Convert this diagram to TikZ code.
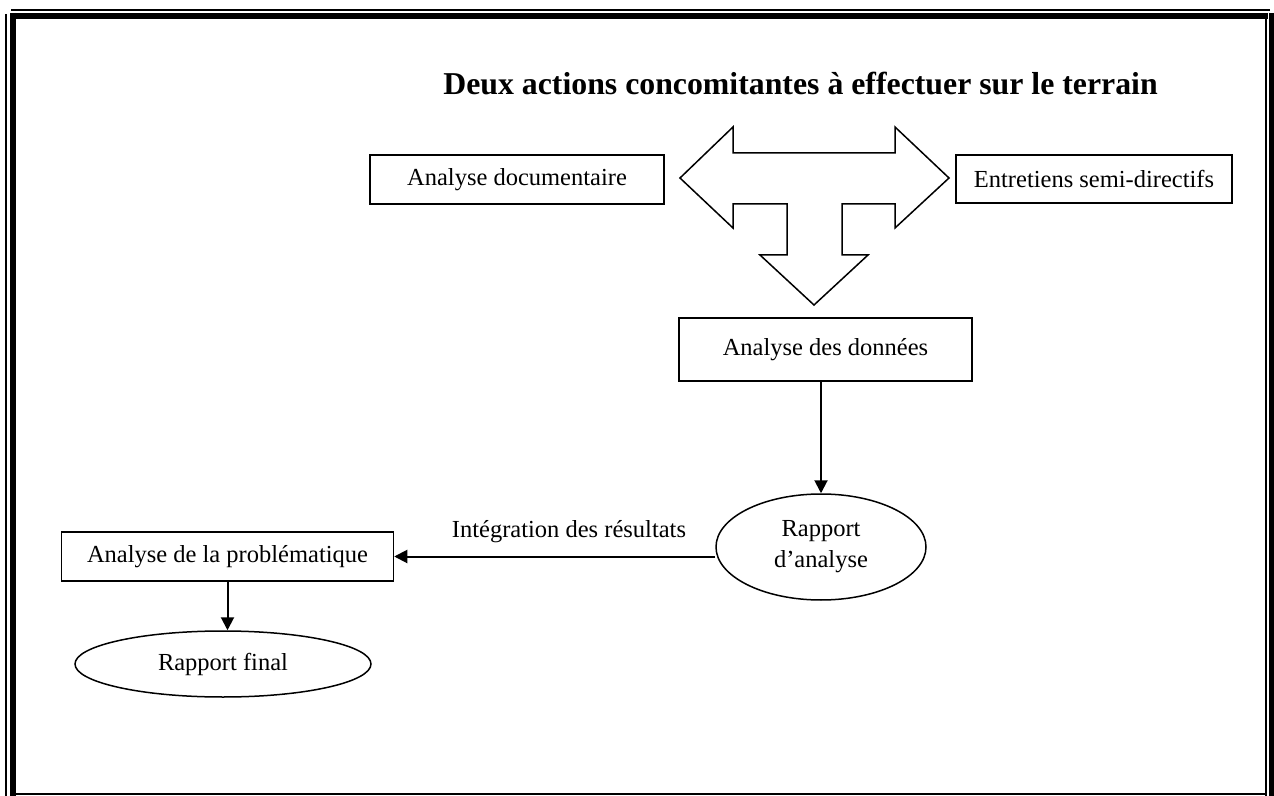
\documentclass[tikz,border=0pt]{standalone}
\usepackage{fontspec}
\setmainfont{Liberation Serif}
\usetikzlibrary{shapes.geometric,arrows.meta,calc}
\tikzset{
  boxnode/.style={draw,line width=0.75pt,inner sep=0pt,font=\fontsize{12.25}{15.5}\selectfont},
  ellnode/.style={draw,ellipse,line width=0.75pt,inner sep=0pt,align=center,font=\fontsize{12.25}{15.5}\selectfont},
  arr/.style={line width=1pt,-{Triangle[length=6.5pt,width=6.5pt]}},
  thinb/.style={line width=0.75pt},
}
\begin{document}
\begin{tikzpicture}[x=0.5pt,y=-0.5pt]
\useasboundingbox (0,0) rectangle (1274,796);
% page border
\draw[thinb] (11,10) -- (1270,10);
\draw[line width=3pt] (10,16) -- (1268,16);
\draw[thinb] (6,14) -- (6,796);
\draw[line width=3pt] (13,13) -- (13,796);
\draw[thinb] (1266,19) -- (1266,796);
\draw[line width=2.5pt] (1271.5,13) -- (1271.5,796);
\draw[thinb] (16,794) -- (1266,794);
% title
\node[font=\fontsize{15.9}{18}\selectfont\bfseries] (title) at (800.5,84) {Deux actions concomitantes à effectuer sur le terrain};
% boxes
\node[boxnode,minimum width=147pt,minimum height=24.5pt] (doc) at (517,179.5) {Analyse documentaire};
\node[boxnode,minimum width=138pt,minimum height=24pt] (ent) at (1094,179) {Entretiens semi-directifs};
\node[boxnode,minimum width=146.5pt,minimum height=31.5pt] (don) at (825.5,349.5) {Analyse des données};
\node[ellnode,minimum width=105pt,minimum height=53pt] (rap) at (821,547) {Rapport\\d’analyse};
\node[boxnode,minimum width=166pt,minimum height=24.5pt] (prob) at (227.5,556.5) {Analyse de la problématique};
\node[ellnode,minimum width=148pt,minimum height=33pt] (fin) at (223,664) {Rapport final};
% triple block arrow
\draw[line width=0.75pt,line join=miter]
  (680,178) -- (733,127) -- (733,153) -- (895,153) -- (895,127) -- (949,178)
  -- (895,228) -- (895,204) -- (842,204) -- (842,255) -- (868,255) -- (814,305)
  -- (760,255) -- (787,255) -- (787,204) -- (733,204) -- (733,228) -- cycle;
% connectors
\draw[arr] (rap.north |- don.south) -- (rap.north);
\draw[arr] (rap.west |- prob.east) -- (prob.east);
\node[font=\fontsize{12.25}{15.5}\selectfont] (lab) at (569,532) {Intégration des résultats};
\draw[arr] (prob.south) -- (prob.south |- fin.north);
\end{tikzpicture}
\end{document}
